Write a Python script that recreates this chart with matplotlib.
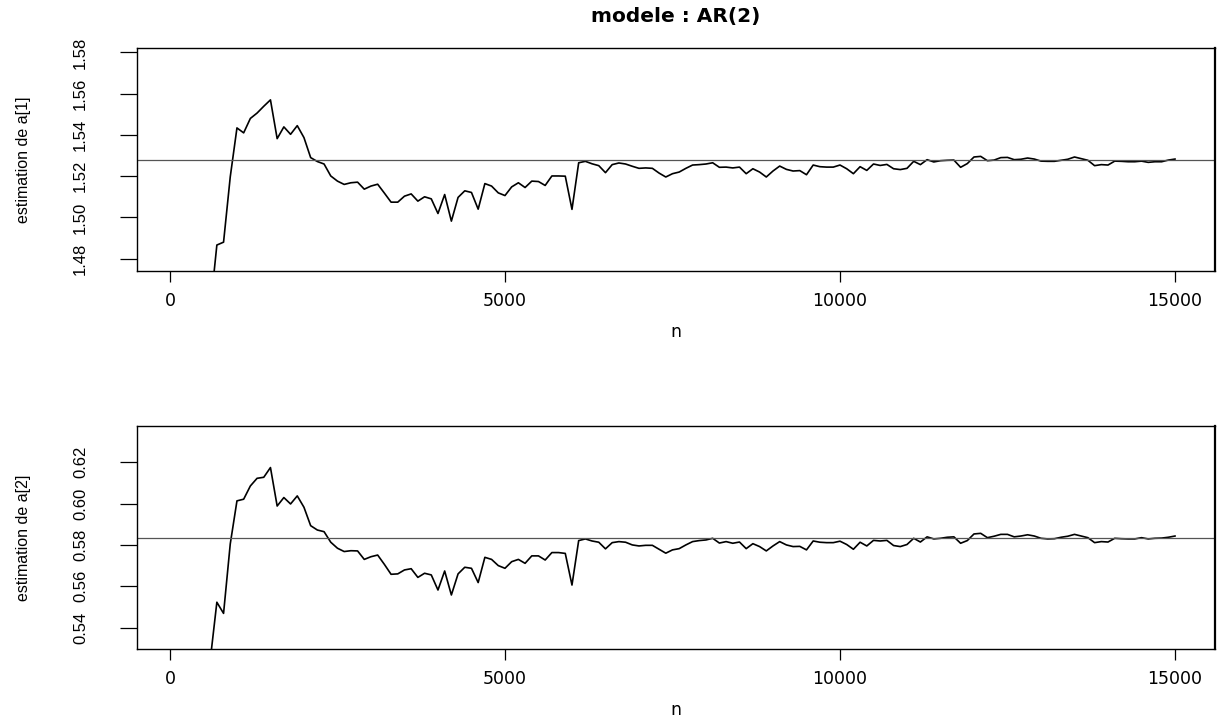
import numpy as np
import matplotlib
matplotlib.use("Agg")
from matplotlib import pyplot as plt

# sample sizes at which the estimates were computed
n = np.arange(100, 15001, 100)

a1_hat = [1.300, 1.380, 1.410, 1.430, 1.440, 1.455,
          1.4866, 1.4880, 1.5197, 1.5434, 1.5410, 1.5480, 1.5506, 1.5539, 1.5570,
          1.5382, 1.5439, 1.5403, 1.5445, 1.5387, 1.5290, 1.5271, 1.5259, 1.5201, 1.5176,
          1.5160, 1.5168, 1.5171, 1.5137, 1.5152, 1.5161, 1.5118, 1.5074, 1.5074, 1.5103,
          1.5114, 1.5079, 1.5100, 1.5090, 1.5019, 1.5111, 1.4982, 1.5097, 1.5129, 1.5121,
          1.5040, 1.5164, 1.5152, 1.5119, 1.5106, 1.5148, 1.5168, 1.5145, 1.5176, 1.5174,
          1.5155, 1.5201, 1.5201, 1.5200, 1.5039, 1.5265, 1.5272, 1.5260, 1.5251, 1.5217,
          1.5256, 1.5264, 1.5259, 1.5248, 1.5238, 1.5240, 1.5238, 1.5215, 1.5196, 1.5212,
          1.5220, 1.5238, 1.5254, 1.5256, 1.5259, 1.5265, 1.5243, 1.5244, 1.5240, 1.5244,
          1.5212, 1.5236, 1.5220, 1.5196, 1.5225, 1.5249, 1.5233, 1.5225, 1.5227, 1.5207,
          1.5254, 1.5246, 1.5244, 1.5244, 1.5254, 1.5236, 1.5212, 1.5246, 1.5228, 1.5259,
          1.5252, 1.5257, 1.5236, 1.5232, 1.5238, 1.5272, 1.5256, 1.5280, 1.5269, 1.5275,
          1.5277, 1.5278, 1.5243, 1.5261, 1.5293, 1.5296, 1.5275, 1.5278, 1.5290, 1.5291,
          1.5280, 1.5282, 1.5288, 1.5283, 1.5273, 1.5272, 1.5272, 1.5277, 1.5282, 1.5293,
          1.5285, 1.5277, 1.5251, 1.5256, 1.5254, 1.5273, 1.5272, 1.5270, 1.5270, 1.5273,
          1.5267, 1.5270, 1.5270, 1.5278, 1.5283]

a2_hat = [0.400, 0.460, 0.490, 0.500, 0.510, 0.524,
          0.5523, 0.5469, 0.5805, 0.6013, 0.6021, 0.6085, 0.6122, 0.6127, 0.6174,
          0.5988, 0.6029, 0.5998, 0.6037, 0.5982, 0.5893, 0.5872, 0.5864, 0.5813, 0.5784,
          0.5768, 0.5772, 0.5771, 0.5730, 0.5743, 0.5751, 0.5706, 0.5658, 0.5660, 0.5679,
          0.5685, 0.5643, 0.5663, 0.5655, 0.5582, 0.5674, 0.5558, 0.5660, 0.5692, 0.5687,
          0.5618, 0.5740, 0.5730, 0.5700, 0.5687, 0.5719, 0.5730, 0.5711, 0.5747, 0.5747,
          0.5727, 0.5763, 0.5763, 0.5759, 0.5606, 0.5821, 0.5829, 0.5819, 0.5813, 0.5781,
          0.5811, 0.5816, 0.5813, 0.5800, 0.5795, 0.5798, 0.5798, 0.5779, 0.5760, 0.5776,
          0.5782, 0.5800, 0.5816, 0.5821, 0.5824, 0.5832, 0.5809, 0.5816, 0.5808, 0.5814,
          0.5782, 0.5806, 0.5792, 0.5771, 0.5795, 0.5816, 0.5800, 0.5792, 0.5793, 0.5776,
          0.5819, 0.5813, 0.5811, 0.5811, 0.5818, 0.5802, 0.5779, 0.5813, 0.5795, 0.5822,
          0.5819, 0.5822, 0.5797, 0.5792, 0.5802, 0.5832, 0.5814, 0.5839, 0.5829, 0.5832,
          0.5837, 0.5839, 0.5808, 0.5821, 0.5853, 0.5856, 0.5835, 0.5842, 0.5851, 0.5851,
          0.5839, 0.5843, 0.5849, 0.5843, 0.5832, 0.5829, 0.5830, 0.5837, 0.5842, 0.5851,
          0.5843, 0.5835, 0.5811, 0.5816, 0.5814, 0.5832, 0.5830, 0.5829, 0.5829, 0.5835,
          0.5829, 0.5832, 0.5833, 0.5837, 0.5843]

true_vals = [1.528, 0.5835]
ylabels = ['estimation de a[1]', 'estimation de a[2]']
yticks = [[1.48, 1.50, 1.52, 1.54, 1.56, 1.58],
          [0.54, 0.56, 0.58, 0.60, 0.62]]
xticks = [0, 5000, 10000, 15000]

narrow = ['Liberation Sans Narrow', 'Liberation Sans', 'DejaVu Sans']
wide = ['DejaVu Sans']

fig = plt.figure(figsize=(12.24, 7.17), dpi=100)
boxes = [[0.1117, 0.6220, 0.8809, 0.3106],
         [0.1117, 0.0943, 0.8809, 0.3116]]
xlab_y = [-0.274, -0.271]

for i, est in enumerate([a1_hat, a2_hat]):
    ax = fig.add_axes(boxes[i])
    ax.plot(n, est, color='black', lw=1.2)
    ax.axhline(true_vals[i], color='#555555', lw=0.9)

    # R style: +/- 0.05 around the true value, then 4% extension
    lo, hi = true_vals[i] - 0.05, true_vals[i] + 0.05
    ext = 0.04 * (hi - lo)
    ax.set_ylim(lo - ext, hi + ext)
    ax.set_xlim(100 - 0.04 * 14900, 15000 + 0.04 * 14900)

    ax.set_xticks(xticks)
    ax.set_xticklabels([str(t) for t in xticks], family=wide, fontsize=12.5)
    ax.set_yticks(yticks[i])
    ax.set_yticklabels(['%.2f' % t for t in yticks[i]], family=narrow,
                       fontsize=12, rotation=90, va='center')
    ax.tick_params(axis='x', length=8, width=0.9, pad=7)
    ax.tick_params(axis='y', length=12, width=0.9, pad=23)
    for s in ax.spines.values():
        s.set_linewidth(1.0)
    ax.spines['right'].set_linewidth(1.6)

    ax.set_xlabel('n', family=wide, fontsize=12.5)
    ax.xaxis.label.set_va('center')
    ax.xaxis.set_label_coords(0.5, xlab_y[i])
    ax.set_ylabel(ylabels[i], family=narrow, fontsize=11.5)
    ax.yaxis.label.set_va('center')
    ax.yaxis.set_label_coords(-0.1054, 0.5)

    if i == 0:
        ax.set_title('modele : AR(2)', family=wide, fontsize=14.5,
                     fontweight='bold', pad=19)

fig.savefig('out.png', dpi=100)
